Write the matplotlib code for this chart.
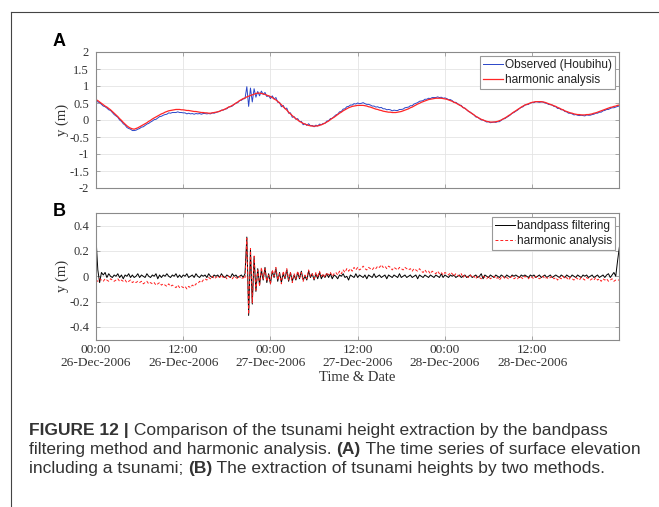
import numpy as np
import matplotlib.pyplot as plt
from matplotlib.lines import Line2D

# Houbihu tide gauge, 15-minute samples from 26-Dec-2006 00:00
sample_step_h = 0.25

# harmonic prediction of the tide (m)
harmonic_tide = [
    0.60, 0.57, 0.53, 0.49, 0.45, 0.41, 0.38, 0.34, 0.30, 0.25, 0.20, 0.15,
    0.10, 0.04, -0.01, -0.07, -0.12, -0.17, -0.21, -0.24, -0.26, -0.27, -0.25, -0.23,
    -0.20, -0.17, -0.14, -0.11, -0.08, -0.04, -0.01, 0.03, 0.06, 0.09, 0.12, 0.15,
    0.18, 0.20, 0.23, 0.25, 0.27, 0.28, 0.29, 0.30, 0.31, 0.31, 0.31, 0.30,
    0.30, 0.29, 0.28, 0.28, 0.27, 0.26, 0.25, 0.25, 0.24, 0.23, 0.22, 0.22,
    0.21, 0.21, 0.20, 0.20, 0.21, 0.22, 0.23, 0.24, 0.26, 0.28, 0.30, 0.32,
    0.35, 0.38, 0.40, 0.43, 0.46, 0.50, 0.53, 0.57, 0.60, 0.63, 0.65, 0.68,
    0.70, 0.72, 0.74, 0.76, 0.78, 0.79, 0.79, 0.78, 0.77, 0.75, 0.73, 0.71,
    0.69, 0.66, 0.62, 0.59, 0.55, 0.50, 0.45, 0.39, 0.34, 0.29, 0.23, 0.18,
    0.13, 0.08, 0.04, 0.00, -0.04, -0.07, -0.10, -0.12, -0.14, -0.16, -0.17, -0.18,
    -0.18, -0.18, -0.17, -0.16, -0.14, -0.12, -0.09, -0.06, -0.03, 0.01, 0.05, 0.08,
    0.12, 0.16, 0.20, 0.23, 0.27, 0.30, 0.33, 0.36, 0.38, 0.40, 0.41, 0.42,
    0.43, 0.43, 0.43, 0.43, 0.42, 0.41, 0.39, 0.38, 0.36, 0.34, 0.32, 0.31,
    0.29, 0.28, 0.26, 0.25, 0.24, 0.23, 0.23, 0.22, 0.22, 0.22, 0.23, 0.24,
    0.25, 0.27, 0.29, 0.31, 0.33, 0.36, 0.38, 0.41, 0.44, 0.47, 0.49, 0.52,
    0.54, 0.56, 0.58, 0.60, 0.61, 0.62, 0.63, 0.64, 0.64, 0.64, 0.64, 0.63,
    0.62, 0.61, 0.59, 0.57, 0.55, 0.52, 0.50, 0.47, 0.44, 0.41, 0.37, 0.34,
    0.30, 0.26, 0.22, 0.19, 0.15, 0.11, 0.08, 0.05, 0.02, 0.00, -0.02, -0.04,
    -0.05, -0.06, -0.06, -0.06, -0.05, -0.04, -0.02, 0.00, 0.03, 0.06, 0.09, 0.13,
    0.16, 0.20, 0.24, 0.27, 0.31, 0.34, 0.38, 0.41, 0.44, 0.46, 0.48, 0.50,
    0.52, 0.53, 0.54, 0.54, 0.54, 0.54, 0.53, 0.52, 0.50, 0.48, 0.46, 0.44,
    0.42, 0.40, 0.37, 0.35, 0.32, 0.30, 0.27, 0.25, 0.23, 0.21, 0.20, 0.18,
    0.17, 0.16, 0.16, 0.15, 0.15, 0.15, 0.16, 0.16, 0.17, 0.18, 0.20, 0.21,
    0.23, 0.25, 0.27, 0.29, 0.31, 0.33, 0.35, 0.37, 0.38, 0.40, 0.41, 0.43,
    0.44,
]

# observed minus harmonic prediction (m)
harmonic_residual = [
    -0.03, -0.04, -0.02, -0.03, -0.04, -0.02, -0.03, -0.04, -0.02, -0.03, -0.04, -0.03,
    -0.02, -0.04, -0.03, -0.04, -0.03, -0.05, -0.04, -0.03, -0.05, -0.04, -0.05, -0.04,
    -0.05, -0.04, -0.06, -0.05, -0.04, -0.06, -0.05, -0.06, -0.05, -0.07, -0.06, -0.05,
    -0.07, -0.06, -0.07, -0.08, -0.06, -0.08, -0.07, -0.08, -0.09, -0.07, -0.09, -0.08,
    -0.09, -0.08, -0.10, -0.08, -0.09, -0.07, -0.08, -0.06, -0.06, -0.04, -0.05, -0.03,
    -0.02, -0.03, -0.01, -0.02, 0.00, -0.02, -0.01, 0.00, -0.01, 0.01, -0.01, 0.00,
    -0.02, 0.00, -0.01, -0.02, 0.00, -0.01, -0.02, 0.00, -0.02, -0.01, -0.02, 0.30,
    -0.30, 0.22, -0.21, 0.16, -0.11, 0.05, -0.08, 0.07, -0.02, 0.06, -0.04, 0.01,
    -0.06, 0.05, 0.00, 0.07, -0.03, 0.02, -0.06, 0.04, -0.01, 0.06, -0.03, 0.03,
    -0.05, 0.02, -0.02, 0.04, -0.01, 0.03, -0.04, 0.01, -0.02, 0.05, 0.00, 0.02,
    -0.02, 0.03, -0.01, 0.04, 0.00, 0.02, -0.01, 0.03, 0.01, 0.03, 0.00, 0.02,
    0.03, 0.01, 0.04, 0.02, 0.05, 0.03, 0.06, 0.04, 0.06, 0.04, 0.07, 0.05,
    0.07, 0.05, 0.06, 0.08, 0.06, 0.05, 0.07, 0.06, 0.05, 0.07, 0.06, 0.08,
    0.07, 0.09, 0.07, 0.08, 0.06, 0.08, 0.07, 0.05, 0.07, 0.06, 0.05, 0.07,
    0.06, 0.05, 0.07, 0.06, 0.05, 0.06, 0.04, 0.06, 0.05, 0.04, 0.06, 0.04,
    0.03, 0.05, 0.03, 0.04, 0.02, 0.04, 0.03, 0.02, 0.04, 0.02, 0.03, 0.01,
    0.03, 0.02, 0.01, 0.03, 0.02, 0.00, 0.02, 0.01, 0.00, 0.02, -0.01, 0.01,
    0.00, -0.01, 0.01, -0.01, 0.00, -0.02, 0.00, -0.01, -0.02, 0.00, -0.01, -0.02,
    0.00, -0.02, -0.01, 0.00, -0.02, -0.01, -0.03, -0.01, 0.00, -0.02, -0.01, -0.02,
    -0.01, 0.00, -0.02, -0.01, -0.02, 0.00, -0.01, -0.02, 0.00, -0.01, -0.02, 0.00,
    -0.01, -0.02, 0.00, -0.01, -0.02, -0.01, 0.00, -0.02, -0.01, -0.02, -0.01, 0.00,
    -0.02, -0.01, -0.03, -0.01, -0.02, 0.00, -0.02, -0.01, -0.03, -0.01, -0.02, -0.03,
    -0.01, -0.02, -0.03, -0.01, -0.02, -0.03, -0.01, -0.02, -0.03, -0.02, -0.03, -0.01,
    -0.03, -0.02, -0.04, -0.02, -0.03, -0.02, -0.04, -0.03, -0.02, -0.04, -0.03, -0.03,
    -0.03,
]

# bandpass filtered record (m)
bandpass_residual = [
    0.30, 0.05, -0.05, 0.03, 0.01, 0.03, -0.01, 0.02, 0.00, -0.01, 0.01, 0.00,
    0.02, -0.01, 0.01, -0.02, 0.01, 0.00, 0.02, -0.01, 0.01, -0.01, 0.00, 0.02,
    -0.01, 0.01, 0.00, -0.01, 0.02, 0.00, -0.01, 0.01, 0.00, 0.02, -0.02, 0.01,
    -0.01, 0.01, 0.00, 0.02, 0.00, -0.01, 0.01, 0.00, 0.02, -0.01, 0.01, -0.01,
    0.01, 0.00, 0.02, -0.01, 0.00, 0.01, -0.01, 0.02, 0.00, -0.01, 0.01, 0.00,
    0.01, -0.01, 0.02, 0.00, -0.01, 0.01, 0.00, 0.01, -0.01, 0.02, 0.00, -0.01,
    0.01, 0.00, -0.01, 0.02, 0.00, 0.01, -0.01, 0.00, 0.01, -0.01, 0.02, 0.31,
    -0.31, 0.21, -0.22, 0.15, -0.12, 0.06, -0.07, 0.05, -0.03, 0.07, -0.05, 0.02,
    -0.06, 0.04, -0.01, 0.06, -0.04, 0.03, -0.05, 0.02, -0.02, 0.05, -0.04, 0.03,
    -0.04, 0.01, -0.03, 0.03, -0.02, 0.04, -0.03, 0.00, -0.03, 0.04, -0.01, 0.02,
    -0.03, 0.02, -0.02, 0.03, -0.02, 0.01, -0.01, 0.02, -0.01, 0.02, -0.02, 0.01,
    0.00, -0.02, 0.01, 0.00, 0.02, -0.01, 0.00, -0.03, 0.01, 0.00, -0.01, 0.02,
    -0.01, 0.01, 0.00, -0.01, 0.01, -0.02, 0.01, 0.00, -0.01, 0.02, -0.01, 0.00,
    0.01, -0.01, 0.00, 0.01, -0.02, 0.01, 0.00, -0.01, 0.01, 0.00, -0.01, 0.02,
    -0.01, 0.00, 0.01, -0.01, 0.00, 0.01, -0.01, 0.00, 0.01, -0.02, 0.01, 0.00,
    -0.01, 0.01, 0.00, -0.01, 0.01, 0.00, -0.01, 0.01, 0.00, -0.01, 0.02, -0.01,
    0.01, 0.00, -0.01, 0.01, 0.00, 0.01, -0.01, 0.00, 0.01, -0.01, 0.00, 0.01,
    -0.01, 0.00, 0.01, -0.01, 0.00, 0.01, -0.01, 0.00, 0.02, -0.02, 0.01, 0.00,
    -0.01, 0.01, 0.00, -0.01, 0.01, 0.00, -0.01, 0.01, 0.00, -0.01, 0.01, 0.00,
    -0.01, 0.01, 0.00, 0.01, 0.00, -0.01, 0.01, 0.00, 0.01, 0.00, -0.01, 0.01,
    0.00, 0.01, -0.01, 0.00, 0.01, -0.01, 0.00, 0.01, -0.01, 0.00, 0.01, -0.01,
    0.00, 0.01, 0.00, -0.01, 0.01, 0.00, -0.01, 0.01, 0.00, -0.01, 0.01, 0.00,
    -0.01, 0.01, 0.00, -0.01, 0.01, 0.00, 0.01, -0.01, 0.00, 0.01, -0.01, 0.00,
    0.01, -0.01, 0.00, 0.01, -0.01, 0.01, 0.02, -0.01, 0.01, 0.03, 0.00, 0.12,
    0.23,
]

tick_hours = [0, 12, 24, 36, 48, 60]
tick_labels = ["00:00\n26-Dec-2006", "12:00\n26-Dec-2006", "00:00\n27-Dec-2006",
               "12:00\n27-Dec-2006", "00:00\n28-Dec-2006", "12:00\n28-Dec-2006"]
ticks_a = [-2, -1.5, -1, -0.5, 0, 0.5, 1, 1.5, 2]
ticks_a_labels = ["-2", "-1.5", "-1", "-0.5", "0", "0.5", "1", "1.5", "2"]
ticks_b = [-0.4, -0.2, 0, 0.2, 0.4]
ticks_b_labels = ["-0.4", "-0.2", "0", "0.2", "0.4"]

time_h = np.arange(len(harmonic_tide)) * sample_step_h
observed = np.array(harmonic_tide) + np.array(harmonic_residual)

W, H = 659, 507
fig = plt.figure(figsize=(W / 100, H / 100), dpi=100)
fig.patch.set_facecolor('white')

serif = 'Liberation Serif'
sans = 'Liberation Sans'
txt_col = '#333333'
box_col = '#8a8a8a'


def style_axes(ax):
    ax.set_xlim(0, 71.95)
    ax.set_xticks(tick_hours)
    ax.grid(True, color='#e4e4e4', linewidth=0.6)
    ax.set_axisbelow(True)
    for sp in ax.spines.values():
        sp.set_color(box_col)
        sp.set_linewidth(0.8)
    ax.tick_params(which='both', direction='in', top=True, right=True,
                   length=3, width=0.5, color=box_col, labelcolor=txt_col)
    ax.tick_params(axis='y', labelsize=9, pad=5)
    ax.tick_params(axis='x', labelsize=9.6, pad=3)
    for lab in ax.get_xticklabels() + ax.get_yticklabels():
        lab.set_fontfamily(serif)


axA = fig.add_axes([96 / W, 1 - 188 / H, 523 / W, 136 / H])
axB = fig.add_axes([96 / W, 1 - 339.5 / H, 523 / W, 126.5 / H])

# panel A
axA.plot(time_h, observed, color='#2a46c8', linewidth=0.7, label='Observed (Houbihu)')
axA.plot(time_h, harmonic_tide, color='#ff2626', linewidth=0.9, label='harmonic analysis')
axA.set_ylim(-2, 2)
axA.set_yticks(ticks_a)
axA.set_yticklabels(ticks_a_labels)
axA.set_xticklabels([])
style_axes(axA)
axA.set_ylabel('y (m)', fontfamily=serif, fontsize=10.5, color=txt_col, labelpad=0)

# panel B
axB.plot(time_h, bandpass_residual, color='black', linewidth=0.7, label='bandpass filtering')
axB.plot(time_h, harmonic_residual, color='#ff2020', linewidth=0.7, dashes=(3, 2),
         label='harmonic analysis')
axB.set_ylim(-0.5, 0.5)
axB.set_yticks(ticks_b)
axB.set_yticklabels(ticks_b_labels)
axB.set_xticklabels(tick_labels)
style_axes(axB)
axB.set_ylabel('y (m)', fontfamily=serif, fontsize=10.5, color=txt_col, labelpad=0)
axB.set_xlabel('Time & Date', fontfamily=serif, fontsize=10.5, color=txt_col, labelpad=1)

for ax in (axA, axB):
    leg = ax.legend(loc='upper right', prop={'family': sans, 'size': 8.6},
                    handlelength=1.7, handletextpad=0.15, borderpad=0.25,
                    labelspacing=0.25, borderaxespad=0.35, fancybox=False,
                    edgecolor='#999999', framealpha=1)
    leg.get_frame().set_linewidth(0.8)
    for t in leg.get_texts():
        t.set_color('#222222')

# panel letters
fig.text(53 / W, 1 - 46 / H, 'A', fontfamily=sans, fontweight='bold', fontsize=13,
         color='black', va='baseline')
fig.text(53 / W, 1 - 216 / H, 'B', fontfamily=sans, fontweight='bold', fontsize=13,
         color='black', va='baseline')

# page frame (left and top rule)
fig.add_artist(Line2D([11 / W, 11 / W], [0, 1 - 12 / H], transform=fig.transFigure,
                      color='#444444', linewidth=0.8))
fig.add_artist(Line2D([11 / W, 1], [1 - 12 / H, 1 - 12 / H], transform=fig.transFigure,
                      color='#444444', linewidth=0.8))

# caption with mixed bold / regular runs
caption = [
    [("FIGURE 12 |", 'bold'), (" Comparison of the tsunami height extraction by the bandpass", 'normal')],
    [("filtering method and harmonic analysis. ", 'normal'), ("(A)", 'bold'),
     (" The time series of surface elevation", 'normal')],
    [("including a tsunami; ", 'normal'), ("(B)", 'bold'),
     (" The extraction of tsunami heights by two methods.", 'normal')],
]
baselines = [435, 454, 473]
renderer = fig.canvas.get_renderer()
for runs, base in zip(caption, baselines):
    x = 29.0
    for text, weight in runs:
        t = fig.text(x / W, 1 - base / H, text, fontfamily=sans, fontweight=weight,
                     fontsize=12.5, color=txt_col, va='baseline')
        x = t.get_window_extent(renderer).x1

fig.savefig('out.png', dpi=100)
